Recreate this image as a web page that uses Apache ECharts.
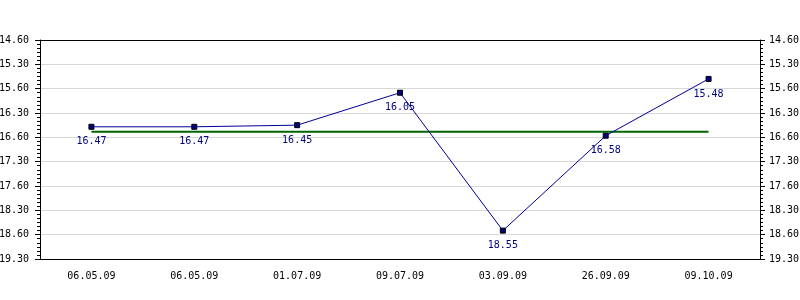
<!DOCTYPE html>
<html>
<head>
<meta charset="utf-8">
<script src="https://cdn.jsdelivr.net/npm/echarts@6/dist/echarts.min.js"></script>
<style>html,body{margin:0;padding:0;background:#fff}#c{width:800px;height:300px}</style>
</head>
<body>
<div id="c"></div>
<script>
const categories = ['06.05.09','06.05.09','01.07.09','09.07.09','03.09.09','26.09.09','09.10.09'];
const values = ['16.47','16.47','16.45','16.05','18.55','16.58','15.48'];
const avgLine = '16.53';
const yTickLabels = ['14.60','15.30','15.60','16.30','16.60','17.30','17.60','18.30','18.60','19.30'];

function toSec(s){ const p = s.split('.'); return parseInt(p[0],10)*60 + parseInt(p[1],10); }
const yMin = 900, yStep = 30, yMax = yMin + yStep*(yTickLabels.length-1);
const font = 'DejaVu Sans Mono';

function yAxisCfg(pos){
  return {
    type:'value', position:pos, inverse:true, min:yMin, max:yMax, interval:yStep,
    axisLine:{show:true, lineStyle:{color:'#000', width:1}},
    axisTick:{show:true, length:5, lineStyle:{color:'#000'}},
    minorTick:{show:true, splitNumber:6, length:3, lineStyle:{color:'#000'}},
    splitLine:{show: pos==='left', lineStyle:{color:'#d8d8d8', width:1}},
    axisLabel:{fontFamily:font, fontSize:10, color:'#000', margin: pos==='left' ? 11 : 9,
      formatter:v=>yTickLabels[Math.round((v-yMin)/yStep)]}
  };
}

const chart = echarts.init(document.getElementById('c'), null, {renderer:'canvas'});
chart.setOption({
  animation:false,
  backgroundColor:'#fff',
  grid:{left:40, right:40, top:40, bottom:41, containLabel:false, outerBoundsMode:'none', show:false},
  xAxis:[
    {type:'category', data:categories, boundaryGap:true,
     axisLine:{lineStyle:{color:'#000'}},
     axisTick:{alignWithLabel:true, length:4, lineStyle:{color:'#000'}},
     axisLabel:{fontFamily:font, fontSize:10, color:'#000', margin:12}},
    {type:'category', data:categories, position:'top', boundaryGap:true,
     axisLine:{show:true, lineStyle:{color:'#000'}},
     axisTick:{show:false}, axisLabel:{show:false}, splitLine:{show:false}}
  ],
  yAxis:[yAxisCfg('left'), yAxisCfg('right')],
  series:[
    {type:'line', yAxisIndex:0, data:categories.map(()=>toSec(avgLine)), symbol:'none',
     lineStyle:{color:'#006400', width:2}, z:2, silent:true},
    {type:'line', yAxisIndex:0, data:values.map(toSec), symbol:'rect', symbolSize:5,
     lineStyle:{color:'#000099', width:1},
     itemStyle:{color:'#000080', borderColor:'#000', borderWidth:1},
     label:{show:true, position:'bottom', distance:7, fontFamily:font, fontSize:10, color:'#000080',
       formatter:p=>values[p.dataIndex]}, z:3}
  ]
});
</script>
</body>
</html>
